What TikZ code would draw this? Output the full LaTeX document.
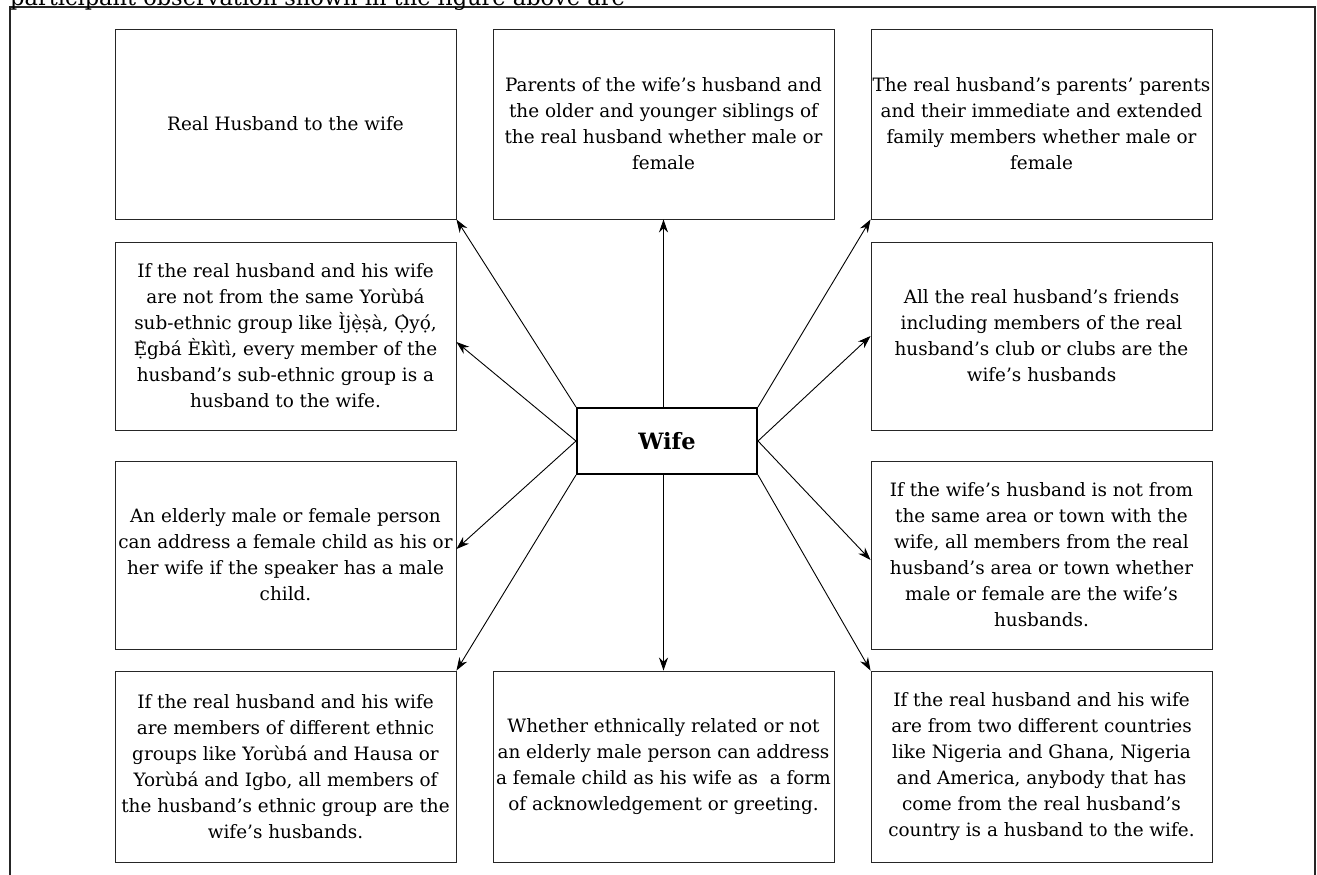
\documentclass[tikz,border=0pt]{standalone}
\usepackage{fontspec}
\setmainfont{DejaVu Serif}
\usetikzlibrary{arrows.meta}
\tikzset{
  box/.style={draw=black!85, line width=0.9pt, rectangle, minimum width=341pt, align=center, inner sep=0pt,
    font=\fontsize{18.4}{26}\selectfont},
  wifebox/.style={draw=black, line width=2pt, rectangle, minimum width=180pt, minimum height=66pt, inner sep=0pt,
    font=\fontsize{22.5}{28}\selectfont\bfseries},
  arr/.style={draw=black, line width=0.9pt, -{Stealth[length=13pt,width=9pt]}},
  frame/.style={draw=black!85, line width=1.2pt}
}
\begin{document}
\begin{tikzpicture}[x=1pt,y=-1pt]
\useasboundingbox (0,0) rectangle (1317,875);
\clip (0,0) rectangle (1317,875);
\fill[white] (0,0) rectangle (1317,875);
% outer frame and cut-off caption
\coordinate (fbl) at (10,900);
\coordinate (ftl) at (10,7);
\coordinate (ftr) at (1315,7);
\coordinate (fbr) at (1315,900);
\draw[frame] (fbl) -- (ftl) -- (ftr) -- (fbr);
\node[anchor=base west, inner sep=0pt, font=\fontsize{22.5}{26}\selectfont] (cap) at (10,6) {participant observation shown in the figure above are};
% boxes
\node[box, minimum height=190pt] (b1) at (285.5,124) {Real Husband to the wife};
\node[box, minimum height=190pt] (b2) at (663.5,124) {Parents of the wife’s husband and\\the older and younger siblings of\\the real husband whether male or\\female};
\node[box, minimum height=190pt] (b3) at (1041.5,124) {The real husband’s parents’ parents\\and their immediate and extended\\family members whether male or\\female};
\node[box, minimum height=188pt] (b4) at (285.5,336) {If the real husband and his wife\\are not from the same Yorùbá\\sub-ethnic group like Ìjẹ̀ṣà, Ọ̀yọ́,\\Ẹ̀gbá Èkìtì, every member of the\\husband’s sub-ethnic group is a\\husband to the wife.};
\node[box, minimum height=188pt] (b5) at (1041.5,336) {All the real husband’s friends\\including members of the real\\husband’s club or clubs are the\\wife’s husbands};
\node[box, minimum height=188pt] (b6) at (285.5,555) {An elderly male or female person\\can address a female child as his or\\her wife if the speaker has a male\\child.};
\node[box, minimum height=188pt] (b7) at (1041.5,555) {If the wife’s husband is not from\\the same area or town with the\\wife, all members from the real\\husband’s area or town whether\\male or female are the wife’s\\husbands.};
\node[box, minimum height=191pt] (b8) at (285.5,766.5) {If the real husband and his wife\\are members of different ethnic\\groups like Yorùbá and Hausa or\\Yorùbá and Igbo, all members of\\the husband’s ethnic group are the\\wife’s husbands.};
\node[box, minimum height=191pt] (b9) at (663.5,766.5) {Whether ethnically related or not\\an elderly male person can address\\a female child as his wife as~ a form\\of acknowledgement or greeting.};
\node[box, minimum height=191pt] (b10) at (1041.5,766.5) {If the real husband and his wife\\are from two different countries\\like Nigeria and Ghana, Nigeria\\and America, anybody that has\\come from the real husband’s\\country is a husband to the wife.};
% centre
\node[wifebox] (w) at (667,441) {Wife};
% connectors
\draw[arr] (w.north west) -- (b1.south east);
\draw[arr] (w.north -| b2.south) -- (b2.south);
\draw[arr] (w.north east) -- (b3.south west);
\draw[arr] (w.west) -- ([yshift=-6pt]b4.east);
\draw[arr] (w.east) -- (b5.west);
\draw[arr] (w.west) -- ([yshift=6pt]b6.east);
\draw[arr] (w.east) -- ([yshift=-5pt]b7.west);
\draw[arr] (w.south west) -- (b8.north east);
\draw[arr] (w.south -| b9.north) -- (b9.north);
\draw[arr] (w.south east) -- (b10.north west);
\end{tikzpicture}
\end{document}
